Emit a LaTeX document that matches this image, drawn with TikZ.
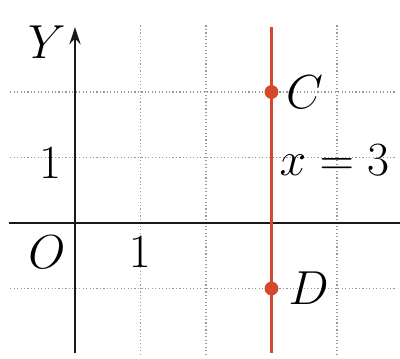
\documentclass[tikz,border=0pt]{standalone}
\usepackage{tikz}
\usetikzlibrary{arrows.meta,positioning}
\definecolor{linered}{RGB}{214,72,46}

\begin{document}
\begin{tikzpicture}[
    font=\huge,
    gridline/.style={densely dotted, black!40, line width=0.5pt},
    axis/.style={line width=1.2pt, black!90},
    redline/.style={line width=1.6pt, linered},
    pt/.style={circle, fill=linered, inner sep=0pt, minimum size=6pt},
    lbl/.style={inner sep=1pt}
  ]
  \useasboundingbox (-1.145,-2.061) rectangle (4.962,3.405);
  % grid
  \foreach \x in {1,2,4} \draw[gridline] (\x,-2.01) -- (\x,3.02);
  \foreach \y in {-1,1,2} \draw[gridline] (-0.99,\y) -- (4.89,\y);
  % axes
  \coordinate (xl) at (-1.0,0);
  \coordinate (xr) at (4.962,0);
  \coordinate (yb) at (0,-1.98);
  \coordinate (yt) at (0,2.99);
  \draw[axis] (xl) -- (xr);
  \draw[axis, -{Stealth[length=2.6mm,width=1.7mm]}] (yb) -- (yt);
  \node[lbl] (ylab) at (-0.43,2.76) {$Y$};
  \node[lbl] (one1) at (-0.38,0.92) {$1$};
  \node[lbl] (orig) at (-0.43,-0.44) {$O$};
  \node[lbl] (one2) at (0.99,-0.44) {$1$};
  % line x = 3
  \coordinate (lt) at (3,2.99);
  \coordinate (lb) at (3,-1.98);
  \draw[redline] (lt) -- (lb);
  \node[pt] (c) at (3,2) {};
  \node[pt] (d) at (3,-1) {};
  \node[lbl, right=2pt of c] (clab) {$C$};
  \node[lbl, right=3pt of d] (dlab) {$D$};
  \node[lbl] (eq) at (3.96,0.96) {$x=3$};
\end{tikzpicture}
\end{document}
